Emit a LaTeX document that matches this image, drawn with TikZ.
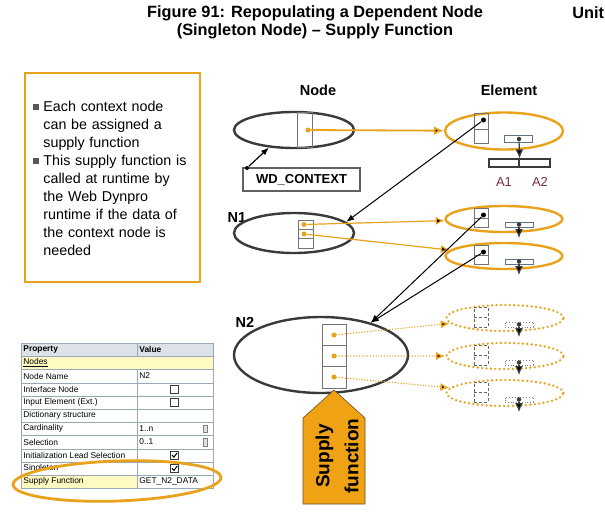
\documentclass[tikz,border=0pt]{standalone}
\usepackage{fontspec}
\setmainfont{Liberation Sans}
\usetikzlibrary{shapes,arrows}
\usetikzlibrary{arrows.meta}
\usetikzlibrary{positioning}
\usetikzlibrary{calc}
\definecolor{sapor}{HTML}{E9A21C}
\definecolor{ndgray}{HTML}{3A3A3A}
\definecolor{attred}{HTML}{7A2E3B}
\definecolor{barblue}{HTML}{5F7385}
\definecolor{tblline}{HTML}{9AA8B6}
\definecolor{tblhead}{HTML}{DCE2E8}
\definecolor{tblyel}{HTML}{FFF9C2}
\definecolor{fnfill}{HTML}{EFA214}
\tikzset{
  nodeell/.style={ellipse,draw=ndgray,line width=2.4pt,inner sep=0pt},
  elemell/.style={ellipse,draw=sapor,line width=2.4pt,inner sep=0pt,minimum width=117pt,minimum height=26pt},
  dotell/.style={elemell,line width=2.6pt,line cap=round,dash pattern=on 0pt off 4.4pt},
  cell/.style={rectangle,draw=gray!90!black,line width=0.7pt,inner sep=0pt,minimum width=14pt},
  dcell/.style={cell,densely dashed,draw=gray!80!black},
  bar/.style={rectangle,draw=barblue,line width=0.8pt,inner sep=0pt,minimum width=28pt,minimum height=5pt},
  odot/.style={circle,fill=sapor,inner sep=0pt,minimum size=5pt},
  bdot/.style={circle,fill=black,inner sep=0pt,minimum size=5pt},
  gdot/.style={circle,fill=ndgray,inner sep=0pt,minimum size=4.5pt},
  bulsq/.style={rectangle,fill=ndgray!85,inner sep=0pt,minimum size=6.5pt},
  btext/.style={anchor=north west,text width=158pt,inner sep=0pt,align=left,font=\fontsize{14.3}{18}\selectfont},
  lbl/.style={font=\bfseries\fontsize{14.5}{16}\selectfont},
  tcell/.style={rectangle,draw=tblline,line width=0.6pt,inner sep=0pt,minimum height=13.2pt,anchor=north west},
  ttext/.style={font=\fontsize{8.4}{9}\selectfont,anchor=west,inner sep=0pt},
  chk/.style={rectangle,draw=ndgray,line width=0.6pt,minimum size=8.5pt,inner sep=0pt,fill=white},
  ddown/.style={rectangle,draw=gray,fill=gray!25,line width=0.5pt,minimum width=4pt,minimum height=7.5pt,inner sep=0pt},
  bigtip/.style={-{Latex[length=9pt,width=8pt]}},
  midtip/.style={-{Latex[length=8pt,width=6pt]}},
}
\begin{document}
\begin{tikzpicture}[x=1pt,y=-1pt,>=latex',thick]
\useasboundingbox (0,0) rectangle (605,512);
%\path[draw=red] (0,0) rectangle (605,512);
\path node[font=\bfseries\fontsize{16.3}{18}\selectfont,align=center] (title) at (315,22) {Figure 91: Repopulating a Dependent Node\\(Singleton Node) – Supply Function};
\path node[font=\bfseries\fontsize{16.3}{18}\selectfont,anchor=west,inner sep=0pt] (unit) at (572,13) {Unit};
\path node[draw=sapor,line width=1.8pt,minimum width=175pt,minimum height=209pt,inner sep=0pt] (box) at (112.5,177.5) {};
\path node[bulsq] (b1) at (36,107) {};
\path node[btext] (t1) at (43,101) {Each context node\\can be assigned a\\supply function};
\path node[bulsq] (b2) at (36,161) {};
\path node[btext] (t2) at (43,155) {This supply function is\\called at runtime by\\the Web Dynpro\\runtime if the data of\\the context node is\\needed};
\path node[lbl] (lnode) at (318,90) {Node};
\path node[lbl] (lelem) at (509,90) {Element};
\path node[lbl] (ln1) at (237,218) {N1};
\path node[lbl] (ln2) at (245,322) {N2};
% root node
\path node[nodeell,minimum width=120pt,minimum height=36pt] (n0) at (294,130) {};
\path node[cell,minimum width=15pt,minimum height=35pt] (n0c) at (304.5,129.5) {};
\path node[odot] (n0d) at (308,130) {};
\path node[draw=ndgray!80,line width=1.2pt,minimum width=117pt,minimum height=23pt,font=\bfseries\fontsize{13}{15}\selectfont] (wd) at (301.5,179.5) {WD\_CONTEXT};
\path node[bdot,minimum size=4pt] (wdd) at (247,168) {};
\path[midtip,line width=1.2pt] (wdd) edge (n0.215);
% element of root
\path node[elemell,minimum width=118pt,minimum height=37pt] (e0) at (504,131) {};
\path node[cell,minimum height=16pt] (e0u) at (481,121) {};
\path node[cell,minimum height=14pt] (e0l) at (481,136) {};
\path node[bdot] (e0d) at (483.5,120) {};
\path node[bar,minimum height=7pt] (e0b) at (518,139) {};
\path node[gdot] (e0bd) at (519,139) {};
\path node[rectangle,draw=ndgray,line width=1.2pt,minimum width=30pt,minimum height=8pt,inner sep=0pt] (a1) at (504,163) {};
\path node[rectangle,draw=ndgray,line width=1.2pt,minimum width=31pt,minimum height=8pt,inner sep=0pt] (a2) at (534.5,163) {};
\path node[text=attred,font=\fontsize{13}{15}\selectfont] (la1) at (504,182) {A1};
\path node[text=attred,font=\fontsize{13}{15}\selectfont] (la2) at (540,182) {A2};
\path[bigtip,draw=ndgray,line width=1.2pt] (e0bd) edge (a1.north east);
\path[-{Latex[length=10pt,width=9pt]},draw=sapor,line width=1.8pt] (n0d) edge (e0);
% N1
\path node[nodeell,minimum width=120pt,minimum height=40pt] (n1) at (294,233) {};
\foreach \k/\y in {1/224.7,2/234,3/243.3}
  \path node[cell,minimum width=15pt,minimum height=9.3pt] (n1c\k) at (305.5,\y) {};
\path node[odot] (n1d1) at (304,224.5) {};
\path node[odot] (n1d2) at (304,234) {};
% elements of N1
\foreach \n/\y in {1/219,2/256}{
  \path node[elemell] (e\n) at (504,\y) {};
  \path node[cell,minimum height=9.5pt] (eu\n) at (481,\y-5.5) {};
  \path node[cell,minimum height=9.5pt] (el\n) at (481,\y+4) {};
  \path node[bdot] (ed\n) at (483.5,\y-4) {};
  \path node[bar] (eb\n) at (519,\y+5.5) {};
  \path node[gdot] (ebd\n) at (519,\y+5.5) {};
  \coordinate (ea\n) at (519,\y+19);
  \path[bigtip,draw=ndgray,line width=1.2pt] (ebd\n) edge (ea\n);
}
\path[bigtip,draw=sapor,line width=1.2pt] (n1d1) edge (e1) (n1d2) edge (e2);
\path[midtip,line width=1pt] (e0d) edge (n1.12);
% N2
\path node[nodeell,minimum width=174pt,minimum height=76pt] (n2) at (321,355) {};
\foreach \k/\y in {1/334.7,2/356,3/377.3}
  \path node[cell,minimum width=24pt,minimum height=21.3pt] (n2c\k) at (334,\y) {};
\foreach \k/\y in {1/335,2/356,3/377}
  \path node[odot] (n2d\k) at (334,\y) {};
\path[midtip,line width=1pt] (ed1) edge (n2.33) (ed2) edge (n2.33);
% elements of N2 (not yet read)
\foreach \n/\y in {3/318,4/356,5/393}{
  \path node[dotell] (e\n) at (505,\y) {};
  \path node[dcell,minimum height=10pt] (eu\n) at (481,\y-6) {};
  \path node[dcell,minimum height=10pt] (el\n) at (481,\y+4) {};
  \path node[bar,dotted,draw=gray] (eb\n) at (519,\y+6.5) {};
  \path node[gdot] (ebd\n) at (519,\y+6.5) {};
  \coordinate (ea\n) at (519,\y+19);
  \path[bigtip,draw=ndgray,line width=1.2pt] (ebd\n) edge (ea\n);
}
\path[bigtip,draw=sapor,line width=1.5pt,line cap=round,dash pattern=on 0pt off 2.8pt] (n2d1) edge (e3) (n2d2) edge (e4) (n2d3) edge (e5);
% supply function
\path[draw=brown!60!black,fill=fnfill,line width=0.6pt] (303,504) -- (303,418) -- (334,390) -- (365,418) -- (365,504) -- cycle;
\path node[rotate=90,align=center,font=\bfseries\fontsize{19}{29}\selectfont] (sf) at (337,456) {Supply\\function};
% property table
\path node[tcell,fill=tblhead,minimum width=116pt] (ph) at (21,343) {};
\path node[tcell,fill=tblhead,minimum width=76pt] (vh) at (137,343) {};
\path node[tcell,fill=tblyel,minimum width=192pt] (nh) at (21,356.2) {};
\foreach \i in {2,...,10}{
  \path node[tcell,minimum width=116pt] (pc\i) at (21,343+13.2*\i) {};
  \path node[tcell,minimum width=76pt] (vc\i) at (137,343+13.2*\i) {};
}
\path node[tcell,fill=tblyel,minimum width=116pt] (pcy) at (21,475) {};
\path node[ttext,font=\bfseries\fontsize{8.4}{9}\selectfont] (phd) at (23,349.6) {Property};
\path node[ttext,font=\bfseries\fontsize{8.4}{9}\selectfont] (vhd) at (139,349.6) {Value};
\path node[ttext] (nodes) at (23,362.8) {\underline{Nodes}};
\foreach \t [count=\i from 2] in {Node Name,Interface Node,Input Element (Ext.),Dictionary structure,Cardinality,Selection,Initialization Lead Selection,Singleton,Supply Function}
  \path node[ttext] (pt\i) at (23,349.6+13.2*\i) {\t};
\path node[ttext] (vt2) at (139,376) {N2};
\path node[ttext] (vt6) at (139,428.8) {1..n};
\path node[ttext] (vt7) at (139,442) {0..1};
\path node[ttext] (vt10) at (139,481.6) {GET\_N2\_DATA};
\path node[ddown] (dd6) at (205.5,428.8) {};
\path node[ddown] (dd7) at (205.5,442) {};
\foreach \i in {3,4,8,9}
  \path node[chk] (cb\i) at (174.5,349.6+13.2*\i) {};
\foreach \i in {8,9}
  \draw[line width=1pt] ($(cb\i.center)+(-2.6,-0.3)$) -- ($(cb\i.center)+(-0.6,2)$) -- ($(cb\i.center)+(2.7,-2.4)$);
\path node[ellipse,draw=sapor,line width=2.8pt,minimum width=208pt,minimum height=40pt,rotate=2] (hl) at (117,481) {};
\end{tikzpicture}
\end{document}
